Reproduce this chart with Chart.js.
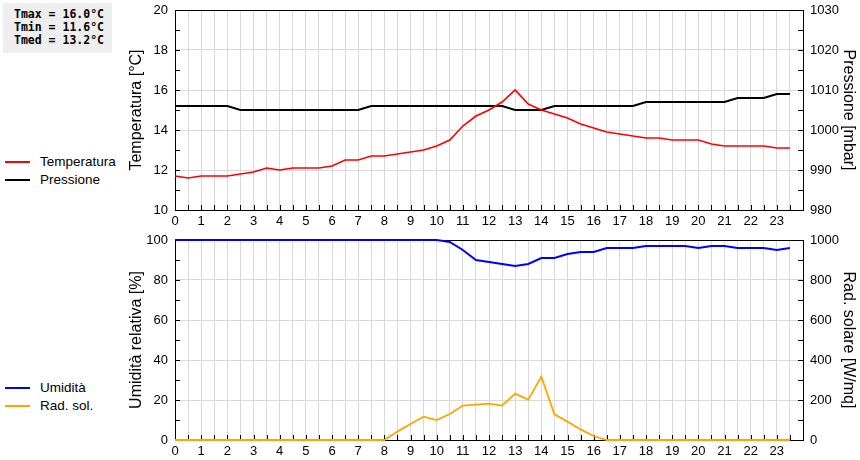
<!DOCTYPE html>
<html lang="it">
<head>
<meta charset="utf-8">
<title>Meteo giornaliero</title>
<script src="https://cdn.jsdelivr.net/npm/chart.js@4/dist/chart.umd.min.js"></script>
<style>
  body { margin: 0; background: #fff; }
  #wrap { position: relative; width: 860px; height: 460px; overflow: hidden; }
  #stats {
    position: absolute; left: 3px; top: 3px; width: 109px; height: 50px;
    background: #eeeeee; box-sizing: border-box; padding: 5px 0 0 11px;
    font: bold 11.5px/13px "DejaVu Sans Mono", monospace; color: #000; white-space: pre;
  }
  .leg { position: absolute; left: 5px; font: 13.5px "Liberation Sans", Arial, sans-serif; color: #000; }
  .leg div { position: relative; height: 18px; line-height: 18px; padding-left: 35px; }
  .leg span { position: absolute; left: 0; top: 8px; width: 25px; height: 2px; }
  .pannello { position: absolute; left: 0; width: 860px; height: 230px; }
  canvas { display: block; }
</style>
</head>
<body>
<div id="wrap">
  <div id="stats"></div>
  <div class="leg" style="top:153px">
    <div><span style="background:#ff0000"></span>Temperatura</div>
    <div><span style="background:#000000"></span>Pressione</div>
  </div>
  <div class="leg" style="top:379px">
    <div><span style="background:#0000ff"></span>Umidità</div>
    <div><span style="background:#ffa500"></span>Rad. sol.</div>
  </div>
  <div class="pannello" style="top:0"><canvas id="graficoSopra" width="860" height="230"></canvas></div>
  <div class="pannello" style="top:230px"><canvas id="graficoSotto" width="860" height="230"></canvas></div>
</div>
<script>
const ore = [0, 0.5, 1, 1.5, 2, 2.5, 3, 3.5, 4, 4.5, 5, 5.5, 6, 6.5, 7, 7.5,
    8, 8.5, 9, 9.5, 10, 10.5, 11, 11.5, 12, 12.5, 13, 13.5, 14, 14.5, 15, 15.5,
    16, 16.5, 17, 17.5, 18, 18.5, 19, 19.5, 20, 20.5, 21, 21.5, 22, 22.5, 23, 23.5];

const temperatura = [11.7, 11.6, 11.7, 11.7, 11.7, 11.8, 11.9, 12.1, 12.0, 12.1, 12.1, 12.1,
    12.2, 12.5, 12.5, 12.7, 12.7, 12.8, 12.9, 13.0, 13.2, 13.5, 14.2, 14.7,
    15.0, 15.4, 16.0, 15.3, 15.0, 14.8, 14.6, 14.3, 14.1, 13.9, 13.8, 13.7,
    13.6, 13.6, 13.5, 13.5, 13.5, 13.3, 13.2, 13.2, 13.2, 13.2, 13.1, 13.1];

const pressione = [1006, 1006, 1006, 1006, 1006, 1005, 1005, 1005, 1005, 1005, 1005, 1005,
    1005, 1005, 1005, 1006, 1006, 1006, 1006, 1006, 1006, 1006, 1006, 1006,
    1006, 1006, 1005, 1005, 1005, 1006, 1006, 1006, 1006, 1006, 1006, 1006,
    1007, 1007, 1007, 1007, 1007, 1007, 1007, 1008, 1008, 1008, 1009, 1009];

const umidita = [100, 100, 100, 100, 100, 100, 100, 100, 100, 100, 100, 100,
    100, 100, 100, 100, 100, 100, 100, 100, 100, 99, 95, 90,
    89, 88, 87, 88, 91, 91, 93, 94, 94, 96, 96, 96,
    97, 97, 97, 97, 96, 97, 97, 96, 96, 96, 95, 96];

const radiazione = [0, 0, 0, 0, 0, 0, 0, 0, 0, 0, 0, 0,
    0, 0, 0, 0, 0, 42, 80, 117, 100, 130, 172, 177,
    182, 172, 232, 202, 317, 128, 92, 53, 20, 0, 0, 0,
    0, 0, 0, 0, 0, 0, 0, 0, 0, 0, 0, 0];

const riepilogo = ['Tmax = 16.0°C', 'Tmin = 11.6°C', 'Tmed = 13.2°C'];

document.getElementById('stats').textContent = riepilogo.join('\n');

Chart.defaults.color = '#000';
Chart.defaults.font.family = '"Liberation Sans", Arial, sans-serif';
Chart.defaults.font.size = 13;

// tacche interne nere e bordo dell'area del grafico
const tacche = {
    id: 'tacche',
    beforeDatasetsDraw(chart) {
        const { ctx, chartArea: a } = chart;
        ctx.save();
        ctx.strokeStyle = '#000';
        ctx.lineWidth = 1;
        ctx.beginPath();
        Object.values(chart.scales).forEach(s => {
            s.ticks.forEach((t, i) => {
                const p = Math.round(s.getPixelForTick(i)) + 0.5;
                if (s.axis === 'x') {
                    ctx.moveTo(p, a.bottom); ctx.lineTo(p, a.bottom - 5);
                } else if (s.position === 'left') {
                    ctx.moveTo(a.left, p); ctx.lineTo(a.left + 5, p);
                } else {
                    ctx.moveTo(a.right, p); ctx.lineTo(a.right - 5, p);
                }
            });
        });
        ctx.stroke();
        ctx.strokeRect(Math.round(a.left) + 0.5, Math.round(a.top) + 0.5,
            Math.round(a.right - a.left), Math.round(a.bottom - a.top));
        ctx.restore();
    }
};

function serie(valori) {
    return valori.map((v, i) => ({ x: ore[i], y: v }));
}

// larghezza fissa dell'asse verticale, senza margini extra per le etichette
function fissa(larghezza) {
    return s => {
        s.width = larghezza;
        s.paddingTop = 0;
        s.paddingBottom = 0;
    };
}

function grafico(id, s1, s2, asse1, asse2) {
    new Chart(document.getElementById(id), {
        type: 'line',
        data: {
            datasets: [
                { label: s1.nome, data: serie(s1.dati), yAxisID: 'y', borderColor: s1.colore,
                  borderWidth: s1.spessore, pointRadius: 0, tension: 0, clip: false },
                { label: s2.nome, data: serie(s2.dati), yAxisID: 'y2', borderColor: s2.colore,
                  borderWidth: s2.spessore, pointRadius: 0, tension: 0, clip: false }
            ]
        },
        options: {
            responsive: false,
            animation: false,
            layout: { autoPadding: false, padding: { left: 123, right: 0, top: 10, bottom: 0 } },
            plugins: { legend: { display: false }, tooltip: { enabled: false } },
            scales: {
                x: {
                    type: 'linear', min: 0, max: 24,
                    border: { display: false },
                    grid: { color: '#d9d9d9', drawTicks: false },
                    ticks: {
                        stepSize: 0.5, autoSkip: false, maxRotation: 0, padding: 4,
                        callback: v => (Number.isInteger(v) && v < 24) ? String(v) : ''
                    },
                    afterFit: s => { s.height = 20; }
                },
                y: {
                    position: 'left', min: asse1.min, max: asse1.max,
                    border: { display: false },
                    grid: {
                        drawTicks: false,
                        color: c => (c.tick && c.tick.value % asse1.etichetta === 0) ? '#d9d9d9' : 'rgba(0,0,0,0)'
                    },
                    ticks: {
                        stepSize: asse1.passo, padding: 7,
                        callback: v => v % asse1.etichetta === 0 ? String(v) : ''
                    },
                    title: { display: true, text: asse1.titolo, font: { size: 16 }, padding: { top: 4, bottom: 0 } },
                    afterFit: fissa(52)
                },
                y2: {
                    position: 'right', min: asse2.min, max: asse2.max,
                    border: { display: false },
                    grid: { drawOnChartArea: false, drawTicks: false },
                    ticks: {
                        stepSize: asse2.passo, padding: 7,
                        callback: v => v % asse2.etichetta === 0 ? String(v) : ''
                    },
                    title: { display: true, text: asse2.titolo, font: { size: 16 }, padding: { top: 2, bottom: 0 } },
                    afterFit: fissa(57)
                }
            }
        },
        plugins: [tacche]
    });
}

grafico('graficoSopra',
    { nome: 'Temperatura', dati: temperatura, colore: '#ff0000', spessore: 1.6 },
    { nome: 'Pressione', dati: pressione, colore: '#000000', spessore: 2.2 },
    { min: 10, max: 20, passo: 1, etichetta: 2, titolo: 'Temperatura [°C]' },
    { min: 980, max: 1030, passo: 5, etichetta: 10, titolo: 'Pressione [mbar]' });

grafico('graficoSotto',
    { nome: 'Umidità', dati: umidita, colore: '#0000ff', spessore: 2 },
    { nome: 'Rad. sol.', dati: radiazione, colore: '#ffa500', spessore: 1.8 },
    { min: 0, max: 100, passo: 10, etichetta: 20, titolo: 'Umidità relativa [%]' },
    { min: 0, max: 1000, passo: 100, etichetta: 200, titolo: 'Rad. solare [W/mq]' });
</script>
</body>
</html>
